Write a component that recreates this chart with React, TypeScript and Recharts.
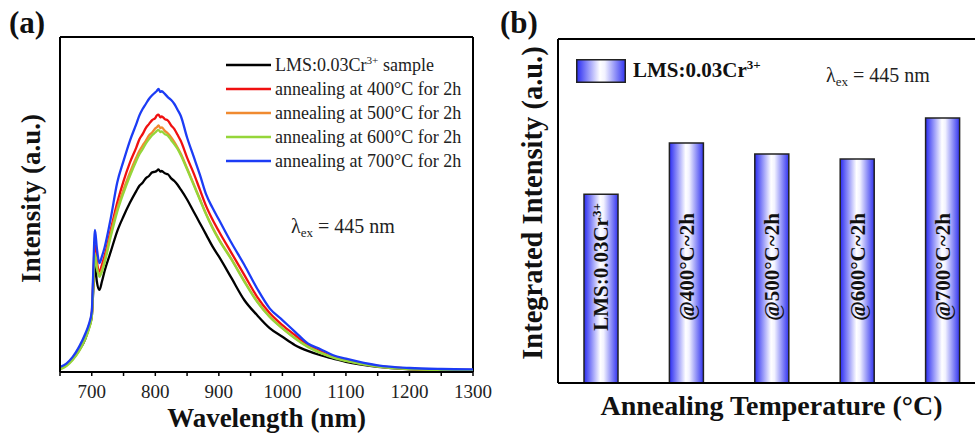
import React from 'react';
import {
  LineChart, Line, BarChart, Bar, XAxis, YAxis, Legend, LabelList, ReferenceLine,
} from 'recharts';

// emission spectra (normalised intensity) vs wavelength in nm
const wavelengths = [
  650, 660, 670, 680, 690, 695, 700, 702, 705, 708, 712, 716, 720, 730, 740, 750, 760, 770,
  775, 780, 785, 790, 795, 800, 802, 805, 808, 810, 815, 820, 825, 830, 835, 840,
  850, 860, 870, 880, 890, 900, 920, 940, 960, 980, 1000, 1020, 1040, 1060, 1080, 1100, 1150, 1200, 1250, 1300,
];
const lmsSample = [
  0.01, 0.02, 0.04, 0.065, 0.1, 0.13, 0.165, 0.23, 0.32, 0.27, 0.245, 0.27, 0.3, 0.36, 0.42, 0.465, 0.505, 0.54,
  0.556, 0.565, 0.578, 0.585, 0.596, 0.598, 0.6, 0.605, 0.598, 0.6, 0.593, 0.59, 0.578, 0.57, 0.559, 0.545,
  0.515, 0.48, 0.445, 0.41, 0.375, 0.345, 0.28, 0.215, 0.17, 0.131, 0.105, 0.08, 0.063, 0.05, 0.04, 0.03, 0.015, 0.008, 0.005, 0.004,
];
const anneal400 = [
  0.012, 0.022, 0.042, 0.07, 0.108, 0.135, 0.175, 0.26, 0.38, 0.33, 0.3, 0.32, 0.345, 0.425, 0.505, 0.57, 0.625, 0.67,
  0.695, 0.71, 0.728, 0.74, 0.752, 0.758, 0.765, 0.768, 0.76, 0.763, 0.755, 0.75, 0.736, 0.725, 0.708, 0.69,
  0.64, 0.595, 0.545, 0.495, 0.455, 0.42, 0.355, 0.29, 0.225, 0.176, 0.14, 0.11, 0.08, 0.062, 0.046, 0.036, 0.018, 0.01, 0.007, 0.006,
];
const anneal500 = [
  0.01, 0.02, 0.038, 0.064, 0.102, 0.128, 0.168, 0.245, 0.355, 0.315, 0.29, 0.306, 0.332, 0.415, 0.488, 0.545, 0.595, 0.64,
  0.66, 0.676, 0.69, 0.706, 0.715, 0.727, 0.73, 0.736, 0.728, 0.73, 0.72, 0.712, 0.7, 0.686, 0.67, 0.652,
  0.608, 0.563, 0.517, 0.472, 0.432, 0.397, 0.337, 0.272, 0.212, 0.166, 0.131, 0.101, 0.076, 0.058, 0.044, 0.034, 0.017, 0.009, 0.006, 0.005,
];
const anneal600 = [
  0.008, 0.018, 0.036, 0.062, 0.1, 0.125, 0.165, 0.24, 0.35, 0.31, 0.284, 0.3, 0.325, 0.405, 0.478, 0.535, 0.585, 0.63,
  0.65, 0.665, 0.682, 0.695, 0.707, 0.715, 0.719, 0.723, 0.716, 0.718, 0.71, 0.705, 0.692, 0.68, 0.666, 0.648,
  0.605, 0.56, 0.515, 0.47, 0.43, 0.395, 0.335, 0.27, 0.21, 0.164, 0.13, 0.1, 0.075, 0.057, 0.043, 0.033, 0.016, 0.009, 0.006, 0.005,
];
const anneal700 = [
  0.015, 0.025, 0.045, 0.075, 0.115, 0.14, 0.18, 0.28, 0.424, 0.37, 0.325, 0.345, 0.37, 0.46, 0.565, 0.63, 0.69, 0.74,
  0.766, 0.785, 0.8, 0.815, 0.826, 0.835, 0.838, 0.845, 0.836, 0.838, 0.83, 0.82, 0.812, 0.8, 0.783, 0.765,
  0.7, 0.645, 0.59, 0.53, 0.49, 0.455, 0.385, 0.32, 0.25, 0.19, 0.155, 0.12, 0.085, 0.068, 0.05, 0.04, 0.02, 0.012, 0.009, 0.008,
];

const seriesNames = [
  'LMS:0.03Cr3+ sample',
  'annealing at 400°C for 2h',
  'annealing at 500°C for 2h',
  'annealing at 600°C for 2h',
  'annealing at 700°C for 2h',
];
const seriesColors = ['#000000', '#f01010', '#f08a30', '#95d63a', '#1c3cf5'];

const wlTicks = [650, 700, 750, 800, 850, 900, 950, 1000, 1050, 1100, 1150, 1200, 1250, 1300];
const wlLabels = [700, 800, 900, 1000, 1100, 1200, 1300];

// integrated intensity per annealing condition (a.u.)
const barCategories = ['as-prepared', '400', '500', '600', '700'];
const integratedIntensity = [54.9, 69.8, 66.6, 65.1, 77.0];
const barLabels = ['LMS:0.03Cr', '@400°C~2h', '@500°C~2h', '@600°C~2h', '@700°C~2h'];
const barSups = ['3+', '', '', '', ''];

const spectra = wavelengths.map((wl, i) => ({
  wl,
  s0: lmsSample[i],
  s1: anneal400[i],
  s2: anneal500[i],
  s3: anneal600[i],
  s4: anneal700[i],
}));

const bars = barCategories.map((name, i) => ({
  name,
  value: integratedIntensity[i],
  label: barLabels[i],
  sup: barSups[i],
}));

const serif = '"Liberation Serif", "Times New Roman", serif';
const axisStroke = { stroke: '#000', strokeWidth: 2 };
const frameLine = { stroke: '#000', strokeWidth: 2 };

// "Cr3+" -> Cr with superscript charge
const withSup = (text: string) => {
  const m = text.match(/^(.*Cr)(3\+)(.*)$/);
  if (!m) return text;
  return (
    <>
      {m[1]}
      <sup style={{ fontSize: '0.62em', lineHeight: 0 }}>{m[2]}</sup>
      {m[3]}
    </>
  );
};

const WlTick = (props: any) => {
  const { x, y, payload } = props;
  if (!wlLabels.includes(payload.value)) return null;
  return (
    <text x={x} y={y} dy="0.71em" textAnchor="middle" fontSize={19} fill="#222" style={{ fontFamily: serif }}>
      {payload.value}
    </text>
  );
};

const SpectraLegend = (props: any) => {
  const { payload } = props;
  return (
    <div style={{ fontFamily: serif, fontSize: 18, color: '#222' }}>
      {payload.map((entry: any) => (
        <div key={entry.value} style={{ display: 'flex', alignItems: 'center', height: 24 }}>
          <svg width={45} height={6} style={{ marginRight: 4 }}>
            <line x1={0} y1={3} x2={45} y2={3} stroke={entry.color} strokeWidth={2.5} />
          </svg>
          <span style={{ whiteSpace: 'nowrap' }}>{withSup(entry.value)}</span>
        </div>
      ))}
    </div>
  );
};

const BarLegend = () => (
  <div style={{ display: 'flex', alignItems: 'center', fontFamily: serif, fontSize: 21, fontWeight: 'bold', color: '#111' }}>
    <svg width={50} height={24} style={{ marginRight: 7 }}>
      <rect x={0.75} y={0.75} width={48.5} height={22.5} fill="url(#barFill)" stroke="#222" strokeWidth={1.5} />
    </svg>
    <span style={{ whiteSpace: 'nowrap' }}>{withSup('LMS:0.03Cr3+')}</span>
  </div>
);

const BarText = (props: any) => {
  const { x, y, width, height, index } = props;
  const cx = x + width / 2;
  const cy = y + height - 116;
  const item = bars[index];
  return (
    <text
      x={cx}
      y={cy}
      transform={`rotate(-90, ${cx}, ${cy})`}
      textAnchor="middle"
      dy="0.35em"
      fontSize={21}
      fontWeight="bold"
      fill="#111"
      style={{ fontFamily: serif }}
    >
      {item.label}
      {item.sup && <tspan dy="-0.55em" fontSize={13}>{item.sup}</tspan>}
    </text>
  );
};

const Excitation = ({ left, top }: { left: number; top: number }) => (
  <div style={{ position: 'absolute', left, top, fontFamily: serif, fontSize: 20, lineHeight: '20px', color: '#222', whiteSpace: 'nowrap' }}>
    λ<sub style={{ fontSize: 13, lineHeight: 0, verticalAlign: '-0.3em' }}>ex</sub> = 445 nm
  </div>
);

const PanelTag = ({ left, text }: { left: number; text: string }) => (
  <div style={{ position: 'absolute', left, top: 7, fontFamily: serif, fontSize: 31, lineHeight: '31px', fontWeight: 'bold', color: '#111' }}>
    {text}
  </div>
);

// legend kept out of the layout so it does not shrink the plot
const floatingLegend = { layout: 'vertical' as const, align: 'center' as const, verticalAlign: 'middle' as const };

export default function App() {
  return (
    <div style={{ position: 'absolute', left: 0, top: 0, width: 975, height: 437, overflow: 'hidden', background: '#fff', fontFamily: serif }}>
      <PanelTag left={9} text="(a)" />
      <PanelTag left={500} text="(b)" />

      <div style={{ position: 'absolute', left: 0, top: 0 }}>
        <LineChart width={500} height={437} data={spectra} margin={{ top: 37, right: 27, bottom: 0, left: 0 }}>
          <XAxis
            dataKey="wl"
            type="number"
            domain={[650, 1300]}
            ticks={wlTicks}
            interval={0}
            tick={WlTick}
            tickSize={4}
            tickMargin={9}
            height={65}
            axisLine={axisStroke}
            tickLine={{ stroke: '#000', strokeWidth: 1.5 }}
            allowDataOverflow
            label={{ value: 'Wavelength (nm)', position: 'insideBottom', offset: 10, fontSize: 27, fontWeight: 'bold', fill: '#111', style: { fontFamily: serif } }}
          />
          <YAxis
            type="number"
            domain={[0, 1]}
            width={60}
            tick={false}
            tickLine={false}
            axisLine={axisStroke}
            label={{ value: 'Intensity (a.u.)', angle: -90, position: 'center', dy: -6, fontSize: 27, fontWeight: 'bold', fill: '#111', style: { fontFamily: serif } }}
          />
          <ReferenceLine y={1} {...frameLine} />
          <ReferenceLine x={1300} {...frameLine} />
          <Legend {...floatingLegend} content={SpectraLegend} wrapperStyle={{ left: 226, top: 53, width: 250 }} />
          {['s0', 's1', 's2', 's3', 's4'].map((key, i) => (
            <Line
              key={key}
              dataKey={key}
              name={seriesNames[i]}
              stroke={seriesColors[i]}
              strokeWidth={2.3}
              dot={false}
              type="monotone"
              isAnimationActive={false}
            />
          ))}
        </LineChart>
      </div>
      <Excitation left={291} top={216} />

      <div style={{ position: 'absolute', left: 505, top: 0 }}>
        <BarChart width={480} height={437} data={bars} margin={{ top: 39, right: 0, bottom: 0, left: 0 }} barSize={34}>
          <defs>
            <linearGradient id="barFill" x1="0" y1="0" x2="1" y2="0">
              <stop offset="0%" stopColor="#2a2cf2" />
              <stop offset="48%" stopColor="#ffffff" />
              <stop offset="58%" stopColor="#f2f2ff" />
              <stop offset="100%" stopColor="#3234f0" />
            </linearGradient>
          </defs>
          <XAxis
            dataKey="name"
            tick={false}
            tickLine={false}
            height={54}
            axisLine={axisStroke}
            label={{ value: 'Annealing Temperature (°C)', position: 'insideBottom', offset: 22, fontSize: 28, fontWeight: 'bold', fill: '#111', style: { fontFamily: serif } }}
          />
          <YAxis
            type="number"
            domain={[0, 100]}
            width={53}
            tick={false}
            tickLine={false}
            axisLine={axisStroke}
            label={{ value: 'Integrated Intensity (a.u.)', angle: -90, position: 'center', dy: -8, fontSize: 28.5, fontWeight: 'bold', fill: '#111', style: { fontFamily: serif } }}
          />
          <ReferenceLine y={100} {...frameLine} />
          <Legend {...floatingLegend} content={BarLegend} wrapperStyle={{ left: 71, top: 58, width: 220 }} />
          <Bar dataKey="value" fill="url(#barFill)" stroke="#222" strokeWidth={1.5} isAnimationActive={false}>
            <LabelList dataKey="label" content={BarText} />
          </Bar>
        </BarChart>
      </div>
      <Excitation left={826} top={65} />
    </div>
  );
}
